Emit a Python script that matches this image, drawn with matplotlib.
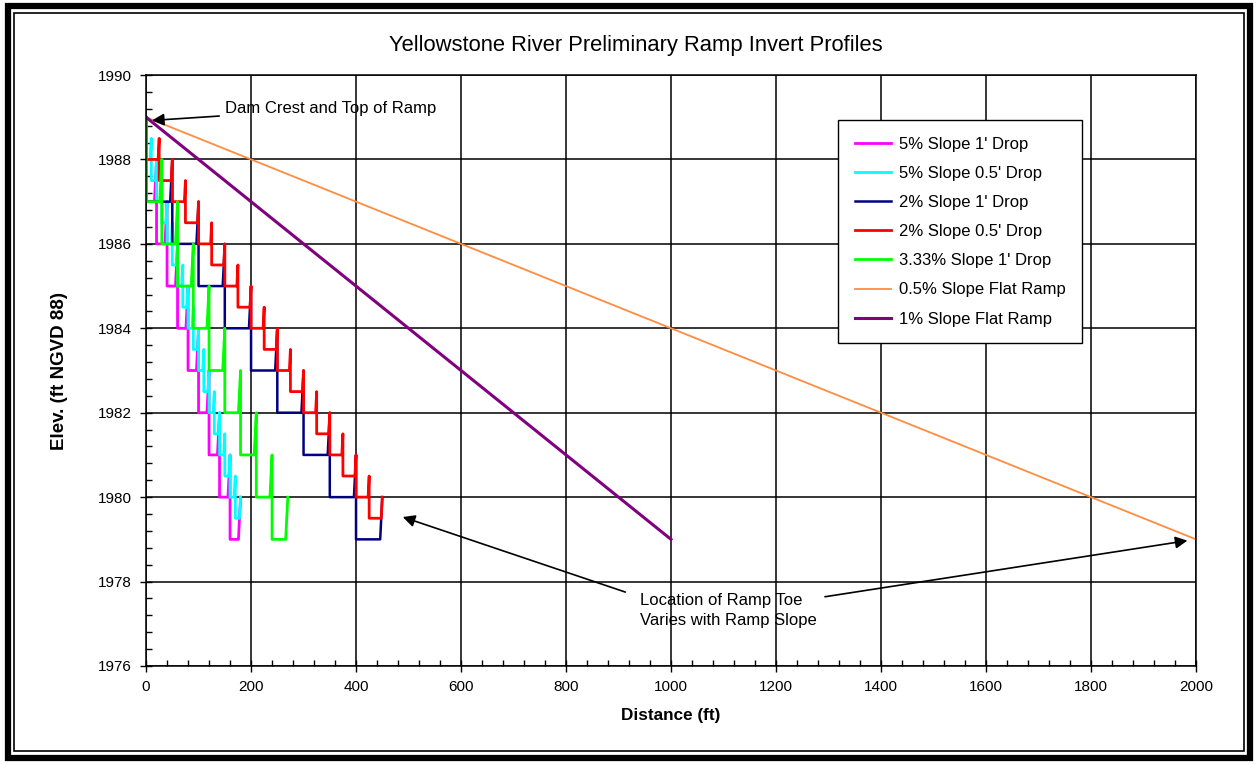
import numpy as np
import matplotlib
matplotlib.use('Agg')
import matplotlib.pyplot as plt
from matplotlib.patches import Rectangle

plt.rcParams['font.family'] = ['Liberation Sans', 'DejaVu Sans']

# crest stations (ft) and crest elevations (ft)
mag_x = [0, 20, 40, 60, 80, 100, 120, 140, 160, 180]
mag_z = [1989, 1988, 1987, 1986, 1985, 1984, 1983, 1982, 1981, 1980]
cyan_x = [0, 10, 20, 30, 40, 50, 60, 70, 80, 90, 100, 110, 120, 130, 140, 150, 160, 170, 180]
cyan_z = [1989, 1988.5, 1988, 1987.5, 1987, 1986.5, 1986, 1985.5, 1985, 1984.5,
          1984, 1983.5, 1983, 1982.5, 1982, 1981.5, 1981, 1980.5, 1980]
navy_x = [0, 50, 100, 150, 200, 250, 300, 350, 400, 450]
navy_z = [1989, 1988, 1987, 1986, 1985, 1984, 1983, 1982, 1981, 1980]
red_x = [0, 25, 50, 75, 100, 125, 150, 175, 200, 225, 250, 275, 300, 325, 350, 375, 400, 425, 450]
red_z = [1989, 1988.5, 1988, 1987.5, 1987, 1986.5, 1986, 1985.5, 1985, 1984.5,
         1984, 1983.5, 1983, 1982.5, 1982, 1981.5, 1981, 1980.5, 1980]
green_x = [0, 30, 60, 90, 120, 150, 180, 210, 240, 270]
green_z = [1989, 1988, 1987, 1986, 1985, 1984, 1983, 1982, 1981, 1980]
# pool depth below crest (ft)
pool_depth = {'mag': 2.0, 'cyan': 1.0, 'navy': 2.0, 'red': 1.0, 'green': 2.0}

flat05_x = [0, 2000]
flat05_z = [1989, 1979]
flat1_x = [0, 1000]
flat1_z = [1989, 1979]


def profile(cx, cz, depth, run=4.0):
    # crest -> vertical drop into pool -> flat -> short rise to next crest
    xs, zs = [cx[0]], [cz[0]]
    for i in range(1, len(cx)):
        pool = cz[i - 1] - depth
        rise = cz[i] - pool
        xs += [cx[i - 1], cx[i] - run * rise, cx[i]]
        zs += [pool, pool, cz[i]]
    return xs, zs


fig = plt.figure(figsize=(12.58, 7.64), dpi=100)
ax = fig.add_axes([0.1161, 0.1283, 0.8346, 0.7735])

series = [
    (mag_x, mag_z, pool_depth['mag'], '#FF00FF', 2.0, "5% Slope 1' Drop"),
    (cyan_x, cyan_z, pool_depth['cyan'], '#00FFFF', 2.0, "5% Slope 0.5' Drop"),
    (navy_x, navy_z, pool_depth['navy'], '#000080', 1.8, "2% Slope 1' Drop"),
    (red_x, red_z, pool_depth['red'], '#FF0000', 2.0, "2% Slope 0.5' Drop"),
    (green_x, green_z, pool_depth['green'], '#00FF00', 2.0, "3.33% Slope 1' Drop"),
]
for cx, cz, d, col, lw, lab in series:
    px, pz = profile(cx, cz, d)
    ax.plot(px, pz, color=col, lw=lw, label=lab)
ax.plot(flat05_x, flat05_z, color='#FF8C40', lw=1.3, label='0.5% Slope Flat Ramp')
ax.plot(flat1_x, flat1_z, color='#800080', lw=2.2, label='1% Slope Flat Ramp')

ax.set_xlim(0, 2000)
ax.set_ylim(1976, 1990)
ax.set_xticks(np.arange(0, 2001, 200))
ax.set_yticks(np.arange(1976, 1991, 2))
ax.set_xticks(np.arange(0, 2001, 40), minor=True)
ax.set_yticks(np.arange(1976, 1990.01, 0.4), minor=True)
ax.grid(True, which='major', color='black', lw=1.1)
ax.tick_params(which='major', direction='inout', length=8, width=1, labelsize=11, pad=6)
ax.tick_params(which='minor', direction='in', length=4, width=1)
ax.tick_params(top=False, right=False)
for s in ax.spines.values():
    s.set_linewidth(1.1)

fig.text(0.5056, 0.94, 'Yellowstone River Preliminary Ramp Invert Profiles',
         fontsize=15.8, ha='center', va='center')
ax.set_xlabel('Distance (ft)', fontsize=12.3, fontweight='bold', labelpad=10)
ax.set_ylabel('Elev. (ft NGVD 88)', fontsize=13.5, fontweight='bold', labelpad=22)

leg = ax.legend(loc='upper left', bbox_to_anchor=(0.659, 0.924), fontsize=12,
                frameon=True, fancybox=False, edgecolor='black', framealpha=1,
                handlelength=2.2, handletextpad=0.45, labelspacing=0.85,
                borderpad=1.0, borderaxespad=0)
leg.get_frame().set_linewidth(1.0)

arrow = dict(arrowstyle='-|>', color='black', lw=1.2, mutation_scale=18)
ax.annotate('Dam Crest and Top of Ramp', xy=(6, 1988.92), xytext=(150, 1989.2),
            fontsize=12, va='center', arrowprops=arrow)
ax.text(941, 1977.32, 'Location of Ramp Toe\nVaries with Ramp Slope', fontsize=12,
        va='center', ha='left', linespacing=1.4)
ax.annotate('', xy=(484, 1979.55), xytext=(918, 1977.73), arrowprops=arrow)
ax.annotate('', xy=(1989, 1978.98), xytext=(1288, 1977.63), arrowprops=arrow)

# double frame around the figure
fig.patches.append(Rectangle((0.006, 0.008), 0.988, 0.984, transform=fig.transFigure,
                             fill=False, edgecolor='black', lw=4.5))
fig.patches.append(Rectangle((0.0115, 0.017), 0.977, 0.966, transform=fig.transFigure,
                             fill=False, edgecolor='black', lw=1.2))

fig.savefig('out.png', dpi=100)
